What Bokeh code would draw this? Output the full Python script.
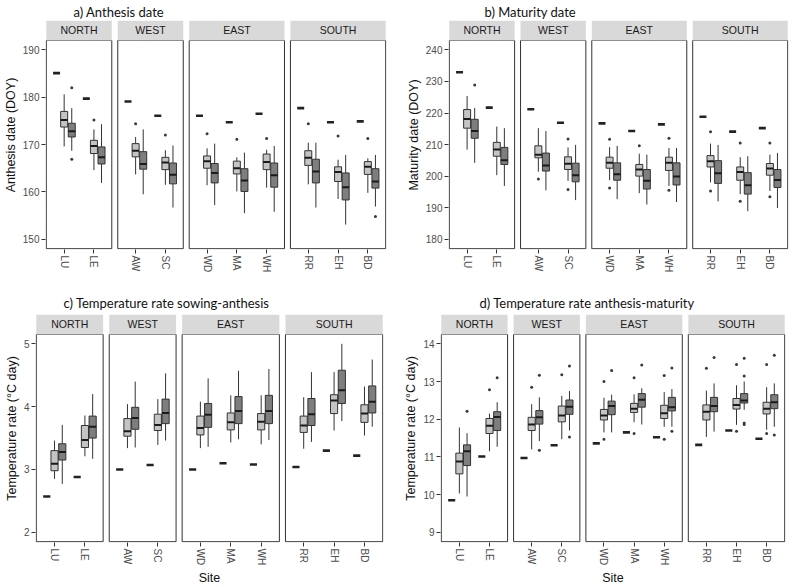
import numpy as np
from bokeh.plotting import figure
from bokeh.layouts import column, row
from bokeh.models import Range1d, FixedTicker, ColumnDataSource
from bokeh.embed import file_html
from bokeh.resources import INLINE
from bokeh.core.properties import value

# ---------------- data ----------------
regions = ["NORTH", "WEST", "EAST", "SOUTH"]
region_sites = [["LU", "LE"], ["AW", "SC"], ["WD", "MA", "WH"], ["RR", "EH", "BD"]]
sites = ["LU", "LE", "AW", "SC", "WD", "MA", "WH", "RR", "EH", "BD"]

# a) Anthesis date (DOY); box stats per site: [lower whisker, q1, median, q3, upper whisker]
a_hist = [185.1, 179.7, 179.1, 176.1, 176.1, 174.7, 176.5, 177.7, 174.7, 174.9]
a_light = [[169.6, 173.7, 175.2, 177.0, 180.6], [164.6, 168.1, 169.7, 170.9, 173.2],
           [163.7, 167.4, 168.7, 170.2, 171.6], [161.5, 164.7, 166.2, 167.3, 168.8],
           [161.4, 165.0, 166.5, 167.6, 169.2], [160.1, 163.8, 165.0, 166.5, 167.3],
           [160.9, 164.7, 166.3, 168.0, 168.9], [161.6, 165.6, 167.2, 168.7, 170.4],
           [158.5, 162.2, 164.2, 165.3, 166.8], [159.8, 163.7, 165.3, 166.4, 167.1]]
a_dark = [[168.7, 171.6, 172.8, 174.5, 177.7], [161.9, 165.9, 167.3, 169.5, 174.3],
          [159.5, 164.8, 165.9, 168.5, 173.2], [156.7, 161.7, 163.6, 166.1, 169.8],
          [157.2, 161.9, 164.0, 166.0, 170.2], [155.5, 160.1, 162.4, 164.9, 168.3],
          [155.8, 161.0, 163.5, 166.1, 169.7], [156.7, 161.9, 164.3, 166.9, 170.4],
          [153.1, 158.3, 161.0, 164.0, 167.8], [156.9, 160.8, 162.2, 164.9, 167.8]]
a_light_out = [[], [175.2], [174.4], [172.0], [172.3], [171.1], [171.3], [174.4], [171.8], [171.3]]
a_dark_out = [[182.0, 166.9], [], [], [], [], [], [], [], [], [154.8]]

# b) Maturity date (DOY)
b_hist = [232.9, 221.7, 221.2, 216.9, 216.7, 214.3, 216.4, 218.8, 214.1, 215.2]
b_light = [[208.4, 215.2, 218.1, 221.1, 225.4], [200.3, 206.3, 208.4, 210.7, 215.7],
           [201.4, 205.8, 206.8, 209.6, 215.2], [198.5, 202.1, 203.9, 206.1, 209.1],
           [198.7, 202.5, 204.2, 206.0, 209.2], [194.6, 200.0, 202.1, 203.7, 207.1],
           [196.9, 201.8, 204.2, 206.0, 208.9], [198.0, 202.9, 204.7, 206.5, 210.3],
           [194.3, 198.7, 201.3, 202.9, 206.0], [195.3, 200.3, 202.4, 204.0, 206.8]]
b_dark = [[204.2, 212.0, 214.3, 218.0, 221.6], [196.9, 203.7, 205.0, 209.1, 215.2],
          [195.5, 201.6, 203.4, 207.3, 214.3], [192.4, 198.2, 200.3, 204.1, 209.9],
          [192.7, 198.7, 200.6, 204.2, 209.6], [191.0, 195.9, 198.5, 202.1, 206.8],
          [191.8, 197.2, 199.9, 204.2, 208.9], [192.0, 197.7, 200.9, 204.9, 209.9],
          [188.9, 194.3, 197.1, 201.1, 206.3], [189.9, 196.4, 198.8, 202.1, 207.3]]
b_light_out = [[], [], [199.1], [211.8, 195.8], [211.7, 196.2], [209.6], [212.0, 195.5],
               [214.1, 195.3], [210.5, 192.0], [210.5, 193.5]]
b_dark_out = [[228.9], [], [], [], [], [], [], [], [], []]

# c) Temperature rate sowing-anthesis
c_hist = [2.57, 2.88, 3.00, 3.07, 3.00, 3.10, 3.08, 3.04, 3.30, 3.22]
c_light = [[2.85, 2.98, 3.09, 3.30, 3.46], [3.21, 3.35, 3.47, 3.70, 3.86],
           [3.34, 3.53, 3.61, 3.81, 4.04], [3.39, 3.62, 3.71, 3.88, 4.12],
           [3.34, 3.55, 3.66, 3.85, 4.08], [3.43, 3.63, 3.75, 3.90, 4.18],
           [3.40, 3.63, 3.76, 3.89, 4.18], [3.33, 3.59, 3.70, 3.85, 4.15],
           [3.62, 3.89, 4.10, 4.19, 4.55], [3.54, 3.75, 3.89, 4.03, 4.32]]
c_dark = [[2.77, 3.15, 3.28, 3.41, 3.71], [3.17, 3.50, 3.68, 3.85, 4.20],
          [3.35, 3.64, 3.82, 3.99, 4.40], [3.46, 3.73, 3.90, 4.12, 4.53],
          [3.36, 3.67, 3.87, 4.05, 4.45], [3.48, 3.73, 3.93, 4.16, 4.57],
          [3.47, 3.73, 3.93, 4.18, 4.60], [3.44, 3.70, 3.88, 4.13, 4.55],
          [3.77, 4.05, 4.26, 4.58, 5.00], [3.68, 3.90, 4.08, 4.33, 4.75]]
c_light_out = [[] for _ in range(10)]
c_dark_out = [[] for _ in range(10)]

# d) Temperature rate anthesis-maturity
d_hist = [9.85, 11.01, 10.97, 11.31, 11.36, 11.65, 11.52, 11.32, 11.70, 11.48]
d_light = [[10.03, 10.55, 10.88, 11.10, 11.78], [11.15, 11.62, 11.83, 12.02, 12.15],
           [11.20, 11.70, 11.86, 12.05, 12.40], [11.47, 11.93, 12.10, 12.35, 12.62],
           [11.65, 11.98, 12.10, 12.26, 12.57], [11.92, 12.18, 12.28, 12.42, 12.66],
           [11.80, 12.02, 12.16, 12.37, 12.72], [11.53, 11.98, 12.20, 12.38, 12.76],
           [11.85, 12.27, 12.38, 12.55, 12.90], [11.72, 12.14, 12.28, 12.45, 12.85]]
d_dark = [[9.95, 10.77, 11.15, 11.32, 11.63], [11.27, 11.70, 12.06, 12.20, 12.45],
          [11.42, 11.87, 12.05, 12.23, 12.58], [11.70, 12.13, 12.33, 12.51, 12.75],
          [11.65, 12.12, 12.35, 12.48, 12.65], [11.86, 12.32, 12.52, 12.68, 12.82],
          [11.80, 12.22, 12.32, 12.58, 12.80], [11.67, 12.20, 12.35, 12.58, 12.95],
          [12.25, 12.43, 12.50, 12.68, 13.00], [11.80, 12.28, 12.45, 12.65, 12.95]]
d_light_out = [[], [12.78], [12.85], [13.18], [13.00, 11.47], [13.10, 11.62], [13.16, 11.47],
               [13.35], [13.45, 11.68], [13.45, 11.62]]
d_dark_out = [[12.21], [13.10], [13.17, 11.18], [13.41, 11.53], [13.29], [13.44], [13.36, 11.68],
              [13.64], [13.62, 13.15, 11.90, 11.86], [13.70, 11.58]]

# ---------------- layout helpers ----------------
PAD = 6      # expansion on each side of a facet (0.6 category)
STEP = 10    # one category
GAP = 2      # space between facets
DODGE = 2.55
BOXW = 2.35

starts, ends, pos = [], [], []
x = 0
for rs in region_sites:
    starts.append(x)
    for i in range(len(rs)):
        pos.append(x + PAD + STEP * i)
    x += 2 * PAD + STEP * (len(rs) - 1)
    ends.append(x)
    x += GAP
TOTAL = ends[-1]

AX_GREY = "#4d4d4d"
LINE = "#333333"
LIGHT = "#c4c4c4"
DARK = "#7e7e7e"


def make_panel(title, title_off, ylabel, hist, light, dark, lout, dout, ylim, yticks,
               bl, fw, br, bt, strip_px, data_px, bb, title_standoff, xlabel=None):
    y0 = ylim[0] - 0.05 * (ylim[1] - ylim[0])
    y1 = ylim[1] + 0.05 * (ylim[1] - ylim[0])
    ppu = data_px / (y1 - y0)
    ytop = y1 + strip_px / ppu
    xpx = fw / (TOTAL + 0.0)
    ex = 0.8 / xpx
    ey = 0.8 / ppu
    p = figure(frame_width=fw, frame_height=strip_px + data_px,
               x_range=Range1d(-ex, TOTAL + ex), y_range=Range1d(y0 - ey, ytop),
               min_border_left=bl, min_border_right=br, min_border_top=bt, min_border_bottom=bb,
               output_backend="svg", toolbar_location=None,
               background_fill_color="white", border_fill_color="white")
    p.outline_line_color = None
    p.xgrid.visible = False
    p.ygrid.visible = False

    p.title.text = title
    p.title.text_font = "Lato"
    p.title.text_font_size = "13px"
    p.title.text_font_style = "normal"
    p.title.text_color = "#111111"
    p.title.align = "left"
    p.title.offset = title_off
    p.title.standoff = title_standoff

    # facet frames and strips
    p.quad(left=starts, right=ends, bottom=y0, top=y1, fill_color=None,
           line_color=LINE, line_width=1)
    p.quad(left=starts, right=ends, bottom=y1, top=ytop, fill_color="#d9d9d9",
           line_color=None)
    p.text(x=[(s + e) / 2 for s, e in zip(starts, ends)], y=[(y1 + ytop) / 2] * 4,
           text=regions, text_align="center", text_baseline="middle",
           text_font=value("Liberation Sans"), text_font_size="10.5px", text_color="#1a1a1a")

    # historical dash
    p.rect(x=[q - DODGE for q in pos], y=hist, width=BOXW, height=2.6, height_units="screen",
           fill_color="#222222", line_color=None)

    for stats, outs, off, fill in ((light, lout, 0.0, LIGHT), (dark, dout, DODGE, DARK)):
        xs = [q + off for q in pos]
        lo = [s[0] for s in stats]
        q1 = [s[1] for s in stats]
        md = [s[2] for s in stats]
        q3 = [s[3] for s in stats]
        hi = [s[4] for s in stats]
        p.segment(x0=xs, y0=lo, x1=xs, y1=q1, line_color=LINE, line_width=1)
        p.segment(x0=xs, y0=q3, x1=xs, y1=hi, line_color=LINE, line_width=1)
        p.vbar(x=xs, width=BOXW, bottom=q1, top=q3, fill_color=fill, line_color=LINE,
               line_width=1)
        p.segment(x0=[v - BOXW / 2 for v in xs], y0=md, x1=[v + BOXW / 2 for v in xs], y1=md,
                  line_color="#1a1a1a", line_width=2)
        ox, oy = [], []
        for v, o in zip(xs, outs):
            for w in o:
                ox.append(v)
                oy.append(w)
        if ox:
            p.scatter(x=ox, y=oy, size=3, marker="circle", fill_color="#3a3a3a",
                      line_color=None)

    # axes
    p.xaxis.ticker = FixedTicker(ticks=pos)
    p.xaxis.major_label_overrides = {q: s for q, s in zip(pos, sites)}
    p.xaxis.major_label_orientation = "vertical"
    p.yaxis.ticker = FixedTicker(ticks=yticks)
    for ax in (p.xaxis[0], p.yaxis[0]):
        ax.axis_line_color = None
        ax.major_tick_line_color = LINE
        ax.major_tick_out = 4
        ax.major_tick_in = 0
        ax.minor_tick_line_color = None
        ax.major_label_text_font = "Liberation Sans"
        ax.major_label_text_font_size = "10px"
        ax.major_label_text_color = AX_GREY
        ax.major_label_standoff = 2
        ax.axis_label_text_font = "Liberation Sans"
        ax.axis_label_text_font_size = "12.5px"
        ax.axis_label_text_font_style = "normal"
        ax.axis_label_text_color = "#111111"
        ax.axis_label_standoff = 2
    p.yaxis.axis_label = ylabel
    if xlabel:
        p.xaxis.axis_label = xlabel
        p.xaxis.axis_label_standoff = 3
    return p


pa = make_panel("a) Anthesis date", 28, "Anthesis date (DOY)", a_hist, a_light, a_dark,
                a_light_out, a_dark_out, (150, 190), [150, 160, 170, 180, 190],
                37, 341, 14, 13, 20, 209, 40, 2)
pb = make_panel("b) Maturity date", 36, "Maturity date (DOY)", b_hist, b_light, b_dark,
                b_light_out, b_dark_out, (180, 240), [180, 190, 200, 210, 220, 230, 240],
                48, 340, 8, 13, 20, 209, 40, 2)
pc = make_panel("c) Temperature rate sowing-anthesis", 28, "Temperature rate (°C day)",
                c_hist, c_light, c_dark, c_light_out, c_dark_out, (2, 5), [2, 3, 4, 5],
                35, 348, 9, 23, 20, 208, 44, 7, xlabel="Site")
pd_ = make_panel("d) Temperature rate anthesis-maturity", 39, "Temperature rate (°C day)",
                 d_hist, d_light, d_dark, d_light_out, d_dark_out, (9, 14),
                 [9, 10, 11, 12, 13, 14], 48, 345, 3, 23, 20, 208, 44, 7, xlabel="Site")

layout = column(row(pa, pb, spacing=0), row(pc, pd_, spacing=0), spacing=0)
open("out.html", "w").write(file_html(layout, INLINE))
